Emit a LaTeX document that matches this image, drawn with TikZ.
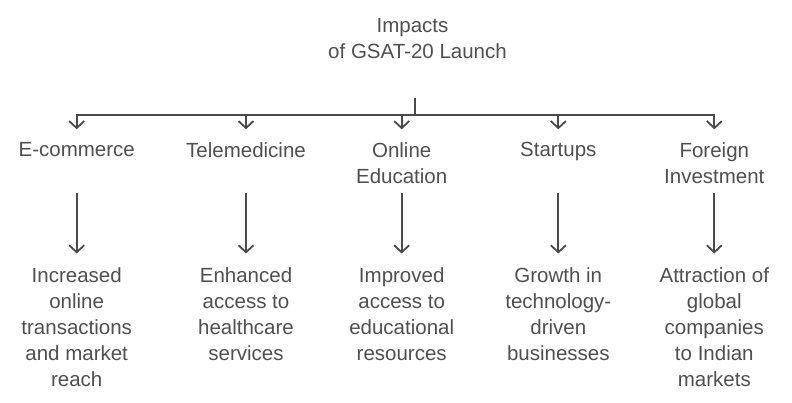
\documentclass[tikz,border=0pt]{standalone}
\usepackage{fontspec}
\setmainfont{Liberation Sans}
\usetikzlibrary{arrows.meta}
\definecolor{txtgray}{HTML}{4F4F4F}
\definecolor{lngray}{HTML}{4A4A4A}
\begin{document}
\begin{tikzpicture}[x=1pt,y=-1pt,
  lbl/.style={anchor=north,inner sep=0pt,align=center,text=txtgray,
    font=\fontsize{20.5}{26}\selectfont},
  conn/.style={draw=lngray,line width=1.8pt},
  arr/.style={conn,-{Straight Barb[length=7pt,width=15pt,line width=1.8pt]}}
]
\useasboundingbox (0,0) rectangle (792,403);
% title
\node[lbl] (t) at (417.5,18.3) {Impacts\kern10pt\\of GSAT-20 Launch};
% categories
\node[lbl] (c1) at (76.7,142.3) {E-commerce};
\node[lbl] (c2) at (246,142.3) {Telemedicine};
\node[lbl] (c3) at (401.7,142.3) {Online\\Education};
\node[lbl] (c4) at (558.3,142.3) {Startups};
\node[lbl] (c5) at (714.3,142.3) {Foreign\\Investment};
% results
\node[lbl] (r1) at (76.7,267) {Increased\\online\\transactions\\and market\\reach};
\node[lbl] (r2) at (246,267) {Enhanced\\access to\\healthcare\\services};
\node[lbl] (r3) at (401.7,267) {Improved\\access to\\educational\\resources};
\node[lbl] (r4) at (558.3,267) {Growth in\\technology-\\driven\\businesses};
\node[lbl] (r5) at (714.3,267) {Attraction of\\global\\companies\\to Indian\\markets};
% connector helpers
\coordinate (stub) at (415.3,98.3);
\coordinate (bus) at (0,115);
\coordinate (low) at (0,193.5);
% bus
\draw[conn] (stub) -- (stub |- bus);
\draw[conn,line cap=butt] ([xshift=-0.9pt]c1 |- bus) -- ([xshift=0.9pt]c5 |- bus);
\foreach \c in {c1,c2,c3,c4,c5}{
  \draw[arr,shorten >=13pt] (\c |- bus) -- (\c.north);
}
\foreach \c/\r in {c1/r1,c2/r2,c3/r3,c4/r4,c5/r5}{
  \draw[arr,shorten >=13.5pt] (\c |- low) -- (\r.north);
}
\end{tikzpicture}
\end{document}
